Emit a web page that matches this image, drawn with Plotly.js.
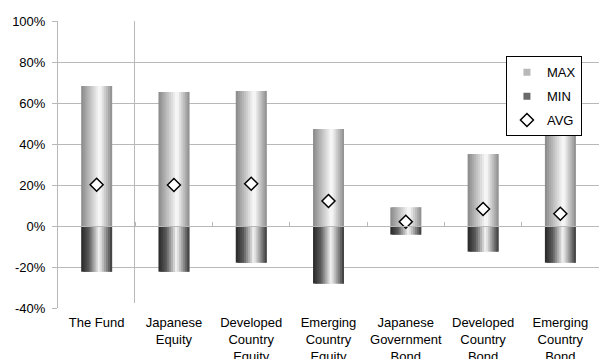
<!DOCTYPE html>
<html>
<head>
<meta charset="utf-8">
<script src="https://cdn.plot.ly/plotly-3.0.1.min.js"></script>
<style>html,body{margin:0;padding:0;background:#fff}#chart{width:600px;height:359px}</style>
</head>
<body>
<div id="chart"></div>
<script>
// ---- data ----
const categories = ['The Fund', 'Japanese<br>Equity', 'Developed<br>Country<br>Equity', 'Emerging<br>Country<br>Equity', 'Japanese<br>Government<br>Bond', 'Developed<br>Country<br>Bond', 'Emerging<br>Country<br>Bond'];
const maxVals = [68.3, 65.4, 65.9, 47.3, 9.1, 35.1, 43.9];
const minVals = [-22.3, -22.3, -17.9, -28.1, -4.2, -12.5, -17.9];
const avgVals = [20.1, 20.0, 20.6, 12.2, 2.1, 8.3, 6.0];
const yTickVals = [-40, -20, 0, 20, 40, 60, 80, 100];
const yTickText = ['-40%', '-20%', '0%', '20%', '40%', '60%', '80%', '100%'];

// ---- styling ----
const BAR_W = 0.40;       // bar width in category units
const STRIPS = 15;        // horizontal gradient approximated with strips
const maxStops = [[0, [136,136,136]], [0.6, [252,252,252]], [1, [140,140,140]]];
const minStops = [[0, [38,38,38]], [0.25, [90,90,90]], [0.58, [245,245,245]], [1, [55,55,55]]];
function gradColor(stops, t) {
  for (let k = 0; k < stops.length - 1; k++) {
    const [t0, c0] = stops[k], [t1, c1] = stops[k + 1];
    if (t >= t0 && t <= t1) {
      const f = (t - t0) / (t1 - t0);
      const c = c0.map((v, j) => Math.round(v + (c1[j] - v) * f));
      return 'rgb(' + c.join(',') + ')';
    }
  }
  return 'rgb(' + stops[stops.length - 1][1].join(',') + ')';
}

const traces = [];
function addGradientBars(vals, stops) {
  const sw = BAR_W / STRIPS;
  for (let i = 0; i < STRIPS; i++) {
    const last = i === STRIPS - 1;
    traces.push({
      type: 'bar', x: categories, y: vals,
      width: last ? sw : sw * 2, offset: -BAR_W / 2 + i * sw,
      marker: {color: gradColor(stops, (i + 0.5) / STRIPS), line: {width: 0}},
      showlegend: false, hoverinfo: 'skip', xaxis: 'x', yaxis: 'y'
    });
  }
}
addGradientBars(maxVals, maxStops);
addGradientBars(minVals, minStops);

// legend entries
traces.push({type: 'scatter', mode: 'markers', x: [null], y: [null], name: 'MAX', legendgroup: 'a',
  marker: {symbol: 'square', size: 7, color: '#b8b8b8'}});
traces.push({type: 'scatter', mode: 'markers', x: [null], y: [null], name: 'MIN', legendgroup: 'b',
  marker: {symbol: 'square', size: 7, color: '#6a6a6a'}});
// averages
traces.push({type: 'scatter', mode: 'markers', x: categories, y: avgVals, name: 'AVG', legendgroup: 'c',
  marker: {symbol: 'diamond', size: 10, color: '#ffffff', line: {color: '#000000', width: 1.5}},
  hoverinfo: 'y'});

const GRID = '#b8b8b8';
const layout = {
  width: 600, height: 359,
  margin: {l: 58, r: 1, t: 21, b: 51},
  paper_bgcolor: '#ffffff', plot_bgcolor: '#ffffff',
  font: {family: 'Liberation Sans, Arial, sans-serif', size: 13, color: '#000000'},
  barmode: 'overlay',
  showlegend: true,
  legend: {x: 0.828, y: 0.877, xanchor: 'left', yanchor: 'top',
    bgcolor: '#ffffff', bordercolor: '#000000', borderwidth: 1,
    font: {size: 13}, traceorder: 'grouped', tracegroupgap: 4, itemwidth: 30},
  xaxis: {type: 'category', categoryorder: 'array', categoryarray: categories,
    range: [-0.5, 6.5], showgrid: false, showline: false, zeroline: false,
    ticks: '', ticklabelstandoff: 5, fixedrange: true},
  xaxis2: {type: 'category', categoryorder: 'array', categoryarray: categories,
    overlaying: 'x', matches: 'x', anchor: 'free', position: 40 / 140, side: 'bottom',
    range: [-0.5, 6.5], showgrid: false, showline: true, linecolor: GRID, linewidth: 1,
    ticks: 'inside', tickson: 'boundaries', ticklen: 4, tickcolor: GRID,
    showticklabels: false, zeroline: false, fixedrange: true},
  yaxis: {range: [-40, 100], tickvals: yTickVals, ticktext: yTickText,
    showgrid: true, gridcolor: GRID, gridwidth: 1, zeroline: false,
    showline: true, linecolor: GRID, linewidth: 1,
    ticks: 'outside', ticklen: 5, tickcolor: GRID, ticklabelstandoff: 4, fixedrange: true},
  shapes: [{type: 'line', xref: 'x', yref: 'y', x0: 0.49, x1: 0.49, y0: -37.6, y1: 100,
    line: {color: GRID, width: 1}, layer: 'below'}]
};
// a dummy invisible trace so xaxis2 is drawn
traces.push({type: 'scatter', mode: 'markers', x: [categories[0]], y: [null], xaxis: 'x2', yaxis: 'y',
  showlegend: false, hoverinfo: 'skip', marker: {opacity: 0}});

Plotly.newPlot('chart', traces, layout, {displayModeBar: false, staticPlot: true});
</script>
</body>
</html>
